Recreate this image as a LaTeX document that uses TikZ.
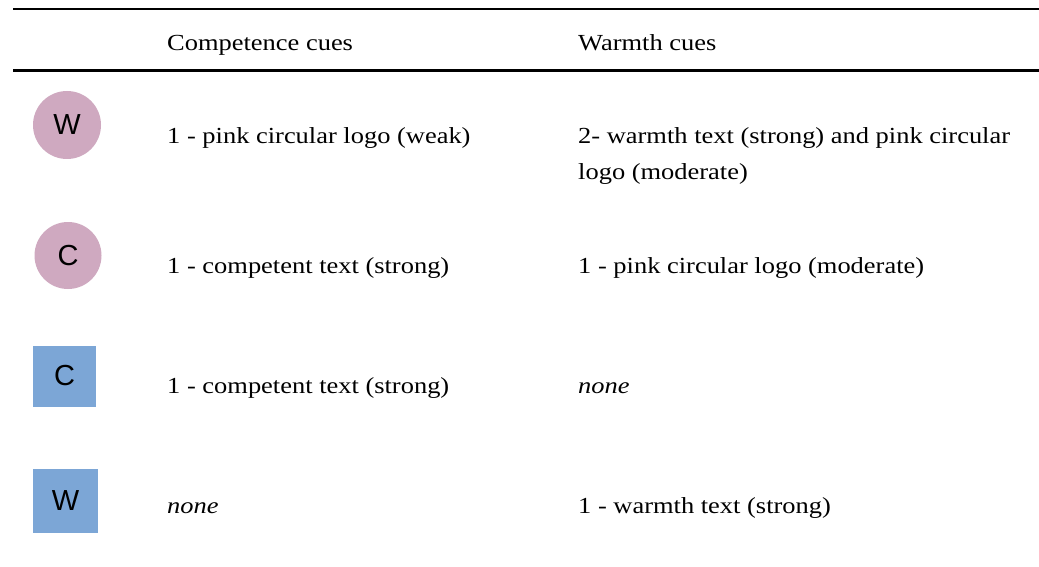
\documentclass[tikz,border=0pt]{standalone}
\usepackage{fontspec}
\setmainfont{Liberation Serif}[FakeStretch=1.15]
\newfontfamily\arialfont{Liberation Sans}
\definecolor{pinklogo}{RGB}{207,169,192}
\definecolor{bluelogo}{RGB}{124,166,214}
\begin{document}
\begin{tikzpicture}[x=1pt,y=-1pt,
  cell/.style={anchor=base west,font=\fontsize{23}{31}\selectfont,inner sep=0pt},
  logo/.style={font=\arialfont\fontsize{29}{29}\selectfont,inner sep=0pt},
  rulebar/.style={line width=#1}]
\useasboundingbox[fill=white] (0,0) rectangle (1039,567);
\coordinate (t1) at (13,9);
\coordinate (t2) at (1039,9);
\coordinate (m1) at (13,70.5);
\coordinate (m2) at (1039,70.5);
\draw[rulebar=2.5pt] (t1) -- (t2);
\draw[rulebar=3.4pt] (m1) -- (m2);
\node[cell] (h1) at (167,51) {Competence cues};
\node[cell] (h2) at (578,51) {Warmth cues};
% row 1
\node[logo,circle,fill=pinklogo,minimum size=68pt] (l1) at (67,125) {W};
\node[cell] (c11) at (167,143) {1 - pink circular logo (weak)};
\node[cell] (c12) at (578,143) {2- warmth text (strong) and pink circular};
\node[cell] (c12b) at (578,179) {logo (moderate)};
% row 2
\node[logo,circle,fill=pinklogo,minimum size=67pt] (l2) at (68,255.5) {C};
\node[cell] (c21) at (167,273) {1 - competent text (strong)};
\node[cell] (c22) at (578,273) {1 - pink circular logo (moderate)};
% row 3
\node[logo,rectangle,fill=bluelogo,minimum width=62.4pt,minimum height=61pt] (l3) at (64.5,376) {C};
\node[cell] (c31) at (167,393) {1 - competent text (strong)};
\node[cell] (c32) at (578,393) {\itshape none};
% row 4
\node[logo,rectangle,fill=bluelogo,minimum width=64.4pt,minimum height=64pt] (l4) at (65.5,501) {W};
\node[cell] (c41) at (167,513) {\itshape none};
\node[cell] (c42) at (578,513) {1 - warmth text (strong)};
\end{tikzpicture}
\end{document}
